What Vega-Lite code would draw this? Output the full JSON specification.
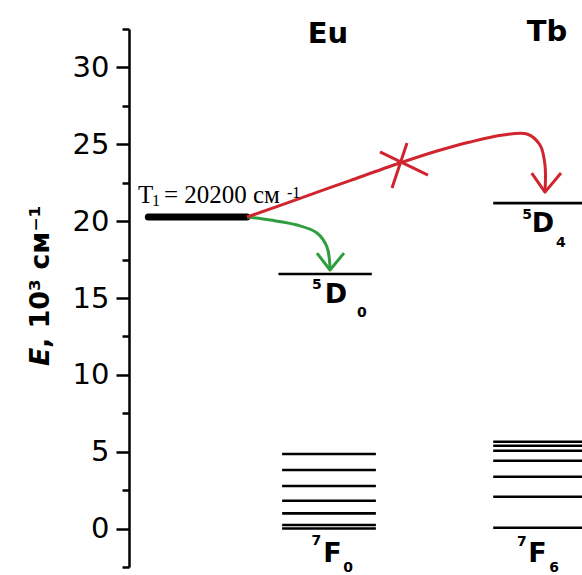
{
  "$schema": "https://vega.github.io/schema/vega-lite/v6.json",
  "width": 453,
  "height": 538,
  "autosize": "none",
  "padding": {"left": 129, "top": 29, "right": 0, "bottom": 8},
  "background": "white",
  "config": {"view": {"stroke": null}},
  "datasets": {
    "levels": [
      {"ion": "Eu", "term": "5D0", "x": 33.0, "xe": 53.6, "E": 16.56},
      {"ion": "Eu", "term": "7F0", "x": 33.8, "xe": 54.5, "E": 0},
      {"ion": "Eu", "term": "7F1", "x": 33.8, "xe": 54.5, "E": 0.23},
      {"ion": "Eu", "term": "7F2", "x": 33.8, "xe": 54.5, "E": 0.99},
      {"ion": "Eu", "term": "7F3", "x": 33.8, "xe": 54.5, "E": 1.81},
      {"ion": "Eu", "term": "7F4", "x": 33.8, "xe": 54.5, "E": 2.77},
      {"ion": "Eu", "term": "7F5", "x": 33.8, "xe": 54.5, "E": 3.81},
      {"ion": "Eu", "term": "7F6", "x": 33.8, "xe": 54.5, "E": 4.85},
      {"ion": "Tb", "term": "5D4", "x": 80.4, "xe": 100, "E": 21.17},
      {"ion": "Tb", "term": "7F6", "x": 80.4, "xe": 100, "E": 0.05},
      {"ion": "Tb", "term": "7F5", "x": 80.4, "xe": 100, "E": 2.07},
      {"ion": "Tb", "term": "7F4", "x": 80.4, "xe": 100, "E": 3.37},
      {"ion": "Tb", "term": "7F3", "x": 80.4, "xe": 100, "E": 4.41},
      {"ion": "Tb", "term": "7F2", "x": 80.4, "xe": 100, "E": 5.06},
      {"ion": "Tb", "term": "7F1", "x": 80.4, "xe": 100, "E": 5.39},
      {"ion": "Tb", "term": "7F0", "x": 80.4, "xe": 100, "E": 5.65}
    ],
    "triplet": [{"term": "T1", "x": 4.26, "xe": 26.0, "E": 20.27}],
    "curves": [
      {"path": "green", "kind": "allowed", "i": 0, "x": 26.05, "E": 20.27},
      {"path": "green", "kind": "allowed", "i": 1, "x": 31.13, "E": 20.07},
      {"path": "green", "kind": "allowed", "i": 2, "x": 37.09, "E": 19.75},
      {"path": "green", "kind": "allowed", "i": 3, "x": 41.5, "E": 19.23},
      {"path": "green", "kind": "allowed", "i": 4, "x": 43.71, "E": 18.31},
      {"path": "green", "kind": "allowed", "i": 5, "x": 44.37, "E": 16.9},
      {"path": "red", "kind": "blocked", "i": 0, "x": 26.05, "E": 20.27},
      {"path": "red", "kind": "blocked", "i": 1, "x": 37.75, "E": 21.48},
      {"path": "red", "kind": "blocked", "i": 2, "x": 48.79, "E": 22.64},
      {"path": "red", "kind": "blocked", "i": 3, "x": 59.82, "E": 23.78},
      {"path": "red", "kind": "blocked", "i": 4, "x": 67.99, "E": 24.56},
      {"path": "red", "kind": "blocked", "i": 5, "x": 75.28, "E": 25.15},
      {"path": "red", "kind": "blocked", "i": 6, "x": 82.56, "E": 25.6},
      {"path": "red", "kind": "blocked", "i": 7, "x": 87.86, "E": 25.67},
      {"path": "red", "kind": "blocked", "i": 8, "x": 90.73, "E": 24.95},
      {"path": "red", "kind": "blocked", "i": 9, "x": 91.83, "E": 23.65},
      {"path": "red", "kind": "blocked", "i": 10, "x": 91.83, "E": 21.89}
    ],
    "heads": [
      {"path": "green head", "kind": "allowed", "i": 0, "x": 41.5, "E": 17.92},
      {"path": "green head", "kind": "allowed", "i": 1, "x": 44.37, "E": 16.82},
      {"path": "green head", "kind": "allowed", "i": 2, "x": 47.46, "E": 17.92},
      {"path": "red head", "kind": "blocked", "i": 0, "x": 88.9, "E": 23.13},
      {"path": "red head", "kind": "blocked", "i": 1, "x": 91.83, "E": 21.89},
      {"path": "red head", "kind": "blocked", "i": 2, "x": 95.36, "E": 23.13},
      {"path": "cross a", "kind": "blocked", "i": 0, "x": 55.41, "E": 24.5},
      {"path": "cross a", "kind": "blocked", "i": 1, "x": 66.0, "E": 23.0},
      {"path": "cross b", "kind": "blocked", "i": 0, "x": 61.37, "E": 25.08},
      {"path": "cross b", "kind": "blocked", "i": 1, "x": 58.06, "E": 22.15}
    ],
    "ions": [
      {"label": "Eu", "x": 43.93, "E": 31.62},
      {"label": "Tb", "x": 92.27, "E": 31.7}
    ],
    "termLetters": [
      {"label": "D", "x": 45.7, "E": 14.67},
      {"label": "D", "x": 91.39, "E": 19.29},
      {"label": "F", "x": 44.92, "E": -2.2},
      {"label": "F", "x": 90.18, "E": -2.2}
    ],
    "termDigits": [
      {"label": "5", "x": 41.5, "E": 15.58},
      {"label": "0", "x": 51.43, "E": 13.76},
      {"label": "5", "x": 87.86, "E": 20.14},
      {"label": "4", "x": 95.36, "E": 18.32},
      {"label": "7", "x": 41.39, "E": -1.07},
      {"label": "0", "x": 48.37, "E": -2.82},
      {"label": "7", "x": 86.75, "E": -1.14},
      {"label": "6", "x": 93.82, "E": -2.8}
    ],
    "tText": [
      {"label": "T", "x": 1.99, "E": 21.18},
      {"label": "= 20200 см", "x": 7.7, "E": 21.18}
    ],
    "tSmall": [
      {"label": "1", "x": 5.08, "E": 20.98},
      {"label": "-1", "x": 34.88, "E": 21.5}
    ],
    "titleE": [{"label": "E", "x": -17.66, "E": 10.57}],
    "titleRest": [{"label": ", 10³ см⁻¹", "x": -17.66, "E": 11.74}]
  },
  "encoding": {
    "x": {"field": "x", "type": "quantitative", "scale": {"domain": [0, 100], "nice": false, "zero": false}, "axis": null},
    "y": {
      "field": "E",
      "type": "quantitative",
      "scale": {"domain": [-2.5, 32.5], "nice": false, "zero": false},
      "axis": {
        "title": null,
        "grid": false,
        "values": [-2.5, 0, 2.5, 5, 7.5, 10, 12.5, 15, 17.5, 20, 22.5, 25, 27.5, 30, 32.5],
        "labelExpr": "datum.value % 5 === 0 ? datum.label : ''",
        "labelOverlap": false,
        "labelFont": "DejaVu Sans",
        "labelFontSize": 29,
        "labelColor": "black",
        "labelPadding": 7,
        "domainColor": "black",
        "domainWidth": 2.5,
        "tickColor": "black",
        "tickWidth": 2.5,
        "tickSize": {"condition": {"test": "datum.value % 5 === 0", "value": 13}, "value": 7}
      }
    }
  },
  "layer": [
    {
      "data": {"name": "levels"},
      "mark": {"type": "rule", "color": "black", "strokeWidth": 2.6},
      "encoding": {"x2": {"field": "xe"}}
    },
    {
      "data": {"name": "triplet"},
      "mark": {"type": "rule", "color": "black", "strokeWidth": 7, "strokeCap": "round"},
      "encoding": {"x2": {"field": "xe"}}
    },
    {
      "data": {"name": "curves"},
      "mark": {"type": "line", "interpolate": "catmull-rom", "strokeWidth": 3},
      "encoding": {
        "order": {"field": "i", "type": "quantitative"},
        "detail": {"field": "path"},
        "color": {"field": "kind", "type": "nominal", "scale": {"domain": ["allowed", "blocked"], "range": ["#2f9e3f", "#d0252f"]}, "legend": null}
      }
    },
    {
      "data": {"name": "heads"},
      "mark": {"type": "line", "strokeWidth": 3, "strokeJoin": "round"},
      "encoding": {
        "order": {"field": "i", "type": "quantitative"},
        "detail": {"field": "path"},
        "color": {"field": "kind", "type": "nominal", "scale": {"domain": ["allowed", "blocked"], "range": ["#2f9e3f", "#d0252f"]}, "legend": null}
      }
    },
    {
      "data": {"name": "ions"},
      "mark": {"type": "text", "font": "DejaVu Sans", "fontWeight": "bold", "fontSize": 29, "align": "center", "baseline": "alphabetic", "color": "black"},
      "encoding": {"text": {"field": "label"}}
    },
    {
      "data": {"name": "termLetters"},
      "mark": {"type": "text", "font": "DejaVu Sans", "fontWeight": "bold", "fontSize": 27, "align": "center", "baseline": "alphabetic", "color": "black"},
      "encoding": {"text": {"field": "label"}}
    },
    {
      "data": {"name": "termDigits"},
      "mark": {"type": "text", "font": "DejaVu Sans", "fontWeight": "bold", "fontSize": 14, "align": "center", "baseline": "alphabetic", "color": "black"},
      "encoding": {"text": {"field": "label"}}
    },
    {
      "data": {"name": "tText"},
      "mark": {"type": "text", "font": "Liberation Serif", "fontSize": 25, "align": "left", "baseline": "alphabetic", "color": "black"},
      "encoding": {"text": {"field": "label"}}
    },
    {
      "data": {"name": "tSmall"},
      "mark": {"type": "text", "font": "Liberation Serif", "fontSize": 16, "align": "left", "baseline": "alphabetic", "color": "black"},
      "encoding": {"text": {"field": "label"}}
    },
    {
      "data": {"name": "titleE"},
      "mark": {"type": "text", "font": "DejaVu Sans", "fontWeight": "bold", "fontStyle": "italic", "fontSize": 27, "angle": 270, "align": "left", "baseline": "alphabetic", "color": "black"},
      "encoding": {"text": {"field": "label"}}
    },
    {
      "data": {"name": "titleRest"},
      "mark": {"type": "text", "font": "DejaVu Sans", "fontWeight": "bold", "fontSize": 27, "angle": 270, "align": "left", "baseline": "alphabetic", "color": "black"},
      "encoding": {"text": {"field": "label"}}
    }
  ]
}
